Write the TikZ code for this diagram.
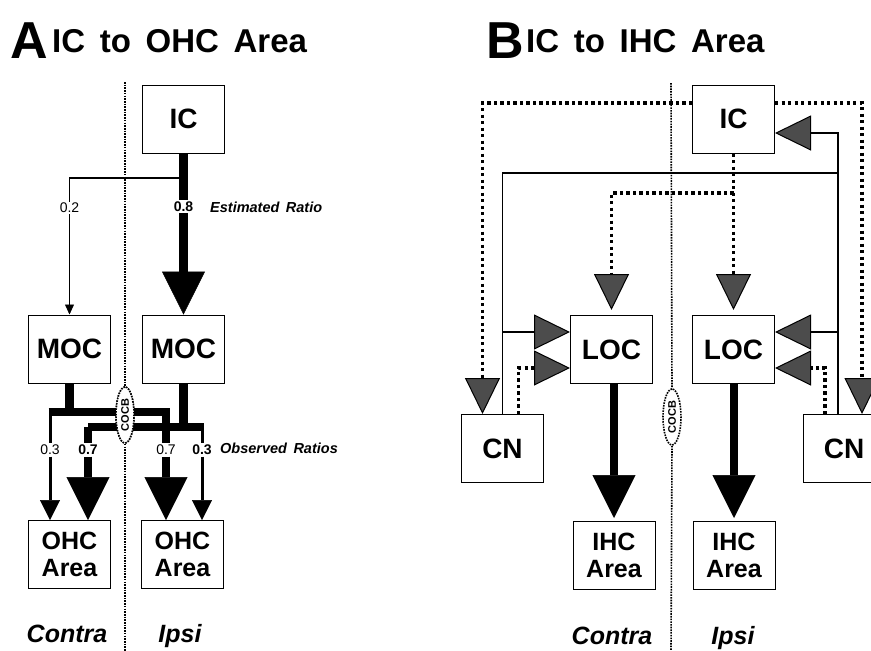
\documentclass[tikz,border=0pt]{standalone}
\usepackage{fontspec}
\setmainfont{Liberation Sans}[WordSpace=1.6]
\usetikzlibrary{arrows.meta,shapes.geometric}
\tikzset{box/.style={draw, line width=1pt, minimum width=82pt, minimum height=68pt, inner sep=0pt, font=\bfseries\fontsize{28}{28}\selectfont}, area/.style={box, align=center, font=\bfseries\fontsize{25}{27}\selectfont}, num/.style={inner sep=1.5pt, fill=white, font=\fontsize{14}{14}\selectfont}, numb/.style={num, font=\bfseries\fontsize{14}{14}\selectfont}, note/.style={anchor=west, inner sep=0pt, font=\bfseries\itshape\fontsize{14.5}{14.5}\selectfont}, side/.style={anchor=base, font=\bfseries\itshape\fontsize{25}{25}\selectfont}, lean/.style={line width=1.5pt}, mid/.style={line width=3pt}, fat/.style={line width=8.5pt}, dots/.style={line width=3.2pt, dash pattern=on 3.2pt off 3.3pt}, mline/.style={line width=1.6pt, dash pattern=on 1.6pt off 1.1pt}, bigtip/.style={-{Triangle[length=43pt,width=43pt,line width=0.5pt]}}, smalltip/.style={-{Triangle[length=20pt,width=20pt,line width=0.5pt]}}, tinytip/.style={-{Triangle[length=10pt,width=9pt,line width=0.5pt]}}, graytip/.style={-{Triangle[length=36pt,width=35pt,line width=1pt,fill=black!70]}}, cocb/.style={ellipse, draw, mline, fill=white, rotate=90, minimum width=56pt, minimum height=18pt, inner sep=0pt, font=\bfseries\fontsize{11}{11}\selectfont}, ttl/.style={anchor=base west, inner sep=0pt, font=\bfseries\fontsize{52}{52}\selectfont}, subttl/.style={anchor=base west, inner sep=0pt, font=\bfseries\fontsize{33}{33}\selectfont}}

\begin{document}
\begin{tikzpicture}[x=1pt,y=-1pt]
\useasboundingbox (0,0) rectangle (871,651);
% panel A
\node[ttl] (ttlA) at (10,58) {A};
\node[subttl] (subA) at (52,52) {IC to OHC Area};
\node[box] (icA) at (183.5,119) {IC};
\node[box] (mocC) at (69.5,349) {MOC};
\node[box] (mocI) at (183.5,349) {MOC};
\node[area] (ohcC) at (69.5,554.5) {OHC\\Area};
\node[area] (ohcI) at (182.5,554.5) {OHC\\Area};
\node[cocb] (cocbA) at (125,415) {COCB};
\draw[mline] (125,82) -- (cocbA.east);
\draw[mline] (cocbA.west) -- (125,651);
\coordinate (spA) at (183.5,178);
\draw[fat, bigtip] (icA) -- node[numb, pos=0.33] (estA) {0.8} (mocI);
\draw[lean, tinytip] (spA) -| node[num, pos=0.61] {0.2} (mocC);
\node[note] at (210,207) {Estimated Ratio};
% split under the MOCs
\coordinate (barCl) at (48.5,412);
\coordinate (barCr) at (166,412);
\coordinate (barIl) at (88,427);
\coordinate (barIr) at (204,427);
\node[num] (rC) at (50,450) {0.3};
\node[numb] (pC) at (88,450) {0.7};
\node[num] (pI) at (166,450) {0.7};
\node[numb] (rI) at (202,450) {0.3};
\node[note] at (220,448) {Observed Ratios};
\draw[fat] (mocC.south) -- (mocC.south |- barCl);
\draw[fat] (mocI.south) -- (mocI.south |- barIl);
\draw[fat] (barIl) -- (barIr);
\draw[fat] (barCl) -- (barCr) -- (pI);
\draw[fat] (barIl) -- (pC);
\draw[mid] (50,412) -- (rC);
\draw[mid] (barIr) ++(-2,0) -- (rI);
\node[cocb] at (cocbA) {COCB};
\draw[mid, smalltip] (rC) -- (rC |- ohcC.north);
\draw[fat, bigtip] (pC) -- (pC |- ohcC.north);
\draw[fat, bigtip] (pI) -- (pI |- ohcI.north);
\draw[mid, smalltip] (rI) -- (rI |- ohcI.north);
\node[side] at (67,642) {Contra};
\node[side] at (180,642) {Ipsi};
% panel B
\node[ttl] (ttlB) at (486,58) {B};
\node[subttl] (subB) at (526,52) {IC to IHC Area};
\node[box] (icB) at (733.5,119) {IC};
\node[box] (locC) at (611.5,349.5) {LOC};
\node[box] (locI) at (733.5,349.5) {LOC};
\node[box] (cnC) at (502.5,448.5) {CN};
\node[box] (cnI) at (844,448.5) {CN};
\node[area] (ihcC) at (614,555.5) {IHC\\Area};
\node[area] (ihcI) at (734,555.5) {IHC\\Area};
\node[cocb] (cocbB) at (672,417) {COCB};
\draw[mline] (671,83) -- (cocbB.east);
\draw[mline] (cocbB.west) -- (671,651);
\coordinate (fbC) at (503,173);
\coordinate (fbI) at (838,173);
\coordinate (dsp) at (733.5,193);
\draw[dots, graytip] (icB.west |- 0,103) -| ([xshift=-20pt]cnC.north);
\draw[dots, graytip] (icB.east |- 0,103) -| ([xshift=18pt]cnI.north);
\draw[lean] (cnC.north) |- (fbI) -- ([xshift=-6pt]cnI.north);
\draw[lean, graytip] (fbI) |- (icB.east |- 0,133);
\draw[lean, graytip] (fbC |- 0,332) -- (locC.west |- 0,332);
\draw[lean, graytip] (fbI |- 0,332) -- (locI.east |- 0,332);
\draw[dots, graytip] ([xshift=16pt]cnC.north) |- (locC.west |- 0,368);
\draw[dots, graytip] ([xshift=-19pt]cnI.north) |- (locI.east |- 0,368);
\draw[dots, graytip, shorten >=5pt] (icB.south) -- (locI.north);
\draw[dots, graytip, shorten >=5pt] (dsp) -| (locC.north);
\draw[fat, bigtip, shorten >=3pt] (ihcC.north |- locC.south) -- (ihcC.north);
\draw[fat, bigtip, shorten >=3pt] (ihcI.north |- locI.south) -- (ihcI.north);
\node[side] at (612,644) {Contra};
\node[side] at (733,644) {Ipsi};
\end{tikzpicture}
\end{document}
